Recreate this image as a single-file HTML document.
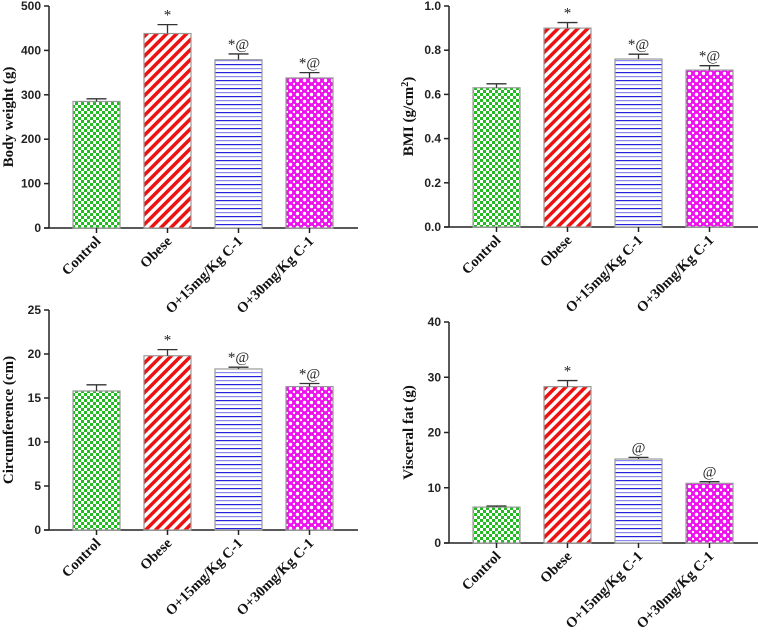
<!DOCTYPE html>
<html><head><meta charset="utf-8">
<style>
html,body{margin:0;padding:0;background:#fff;}
svg{display:block;}
.tk{font-family:"Liberation Sans",Arial,sans-serif;font-weight:bold;font-size:12px;fill:#222;}
.ttl{font-family:"Liberation Serif",serif;font-weight:bold;font-size:15px;fill:#111;}
.cat{font-family:"Liberation Serif",serif;font-weight:bold;font-size:14.5px;fill:#111;}
.ann{font-family:"Liberation Serif",serif;font-size:15px;fill:#222;}
</style></head>
<body>
<svg id="c" width="758" height="634" viewBox="0 0 758 634" xmlns="http://www.w3.org/2000/svg">
<defs>
<pattern id="pGreen" width="6" height="6" patternUnits="userSpaceOnUse">
<rect width="6" height="6" fill="#22bb22"/><rect width="3" height="3" fill="#fff"/><rect x="3" y="3" width="3" height="3" fill="#fff"/>
</pattern>
<pattern id="pRed" width="7" height="7" patternUnits="userSpaceOnUse" patternTransform="rotate(45)">
<rect width="7" height="7" fill="#fff"/><rect width="3.5" height="7" fill="#ee1111"/>
</pattern>
<pattern id="pBlue" width="6" height="8" patternUnits="userSpaceOnUse">
<rect width="6" height="8" fill="#fff"/><rect y="0" width="6" height="1.2" fill="#2222dd"/><rect y="4" width="6" height="1.2" fill="#8888ee"/>
</pattern>
<pattern id="pMag" width="7" height="7" patternUnits="userSpaceOnUse">
<rect width="7" height="7" fill="#ee11ee"/><circle cx="3.5" cy="3.5" r="1.7" fill="#fff"/><circle cx="0" cy="0" r="1.2" fill="#fff"/><circle cx="7" cy="0" r="1.2" fill="#fff"/><circle cx="0" cy="7" r="1.2" fill="#fff"/><circle cx="7" cy="7" r="1.2" fill="#fff"/>
</pattern>
</defs>
</svg>
<script>
const categories = ["Control","Obese","O+15mg/Kg C-1","O+30mg/Kg C-1"];
const bwValues = [285,438,379,338];
const bwErrors = [6,20,13,12];
const bmiValues = [0.63,0.90,0.76,0.71];
const bmiErrors = [0.018,0.025,0.022,0.02];
const circValues = [15.8,19.8,18.3,16.3];
const circErrors = [0.7,0.7,0.2,0.35];
const vfValues = [6.5,28.3,15.2,10.8];
const vfErrors = [0.2,1.1,0.3,0.3];
const bwTicks = ["0","100","200","300","400","500"];
const bmiTicks = ["0.0","0.2","0.4","0.6","0.8","1.0"];
const circTicks = ["0","5","10","15","20","25"];
const vfTicks = ["0","10","20","30","40"];
const bwAnn = ["","*","*@","*@"];
const bmiAnn = ["","*","*@","*@"];
const circAnn = ["","*","*@","*@"];
const vfAnn = ["","*","@","@"];

const svg=document.getElementById('c');
const NS="http://www.w3.org/2000/svg";
const fills=["url(#pGreen)","url(#pRed)","url(#pBlue)","url(#pMag)"];
function mk(tag,attrs,parent){const e=document.createElementNS(NS,tag);for(const k in attrs)e.setAttribute(k,attrs[k]);(parent||svg).appendChild(e);return e;}

function panel(name,ox,top,bottom,ticks,vals,errs,anns,title){
  const g=mk('g',{});
  
  
  const max=parseFloat(ticks[ticks.length-1]);
  const y=v=>bottom-(v/max)*(bottom-top);
  const x=i=>ox+24+i*71;
  const ya=mk('line',{x1:ox,y1:top,x2:ox,y2:bottom,stroke:'#222','stroke-width':1.5},g);
  
  
  ticks.forEach(t=>{
    const v=parseFloat(t),yy=y(v);
    mk('line',{x1:ox-5,y1:yy,x2:ox,y2:yy,stroke:'#222','stroke-width':1.5},g);
    const tx=mk('text',{x:ox-8,y:yy+4,'text-anchor':'end',class:'tk'},g);
    tx.textContent=t;
    
    
  });
  const xa=mk('line',{x1:ox-5,y1:bottom,x2:ox+309,y2:bottom,stroke:'#222','stroke-width':1.5},g);
  
  
  const cy=(top+bottom)/2;
  const tt=mk('text',{x:ox-36,y:cy,'text-anchor':'middle',class:'ttl',transform:`rotate(-90 ${ox-36} ${cy})`},g);
  tt.innerHTML=title;
  
  
  vals.forEach((v,i)=>{
    const bx=x(i),bw=47,cx=bx+bw/2,yt=y(v),ye=y(v+errs[i]);
    const r=mk('rect',{x:bx,y:yt,width:bw,height:bottom-yt,fill:fills[i],stroke:'#999','stroke-width':1.2},g);
    
    
    const eb=mk('path',{d:`M${cx} ${yt}V${ye}M${cx-10} ${ye}H${cx+10}`,stroke:'#333','stroke-width':1.3,fill:'none'},g);
    
    
    mk('line',{x1:cx,y1:bottom,x2:cx,y2:bottom+5,stroke:'#222','stroke-width':1.5},g);
    if(anns[i]){
      const a=mk('text',{x:cx,y:ye-5,'text-anchor':'middle',class:'ann'},g);
      a.textContent=anns[i];
      
      
    }
    const lx=cx+5,ly=bottom+14;
    const lb=mk('text',{x:lx,y:ly,'text-anchor':'end',class:'cat',transform:`rotate(-45 ${lx} ${ly})`},g);
    lb.textContent=categories[i];
    
    
  });
}
panel('body-weight',49,6,228,bwTicks,bwValues,bwErrors,bwAnn,'Body weight (g)');
panel('bmi',449,6,227,bmiTicks,bmiValues,bmiErrors,bmiAnn,'BMI (g/cm<tspan dy="-5" font-size="10">2</tspan><tspan dy="5">)</tspan>');
panel('circumference',49,310,530,circTicks,circValues,circErrors,circAnn,'Circumference (cm)');
panel('visceral-fat',449,322,543,vfTicks,vfValues,vfErrors,vfAnn,'Visceral fat (g)');
</script>
</body></html>
